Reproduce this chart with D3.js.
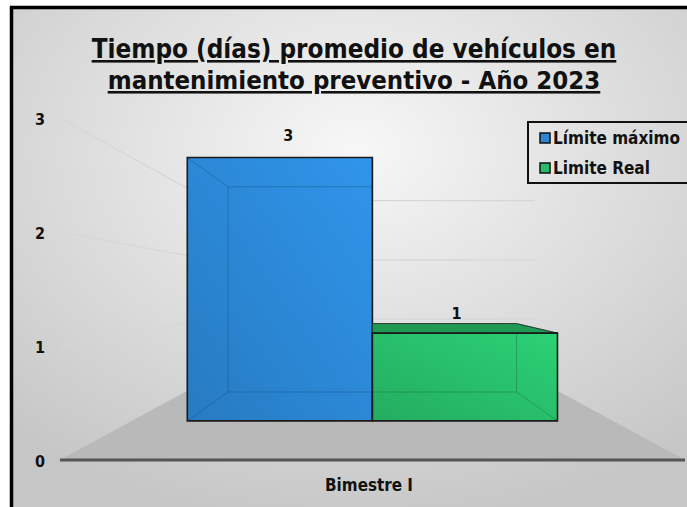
<!DOCTYPE html>
<html>
<head>
<meta charset="utf-8">
<script src="https://cdn.jsdelivr.net/npm/d3@7"></script>
<style>
  body { margin: 0; background: #fff; overflow: hidden; }
  text { font-family: "DejaVu Sans Condensed", "DejaVu Sans", sans-serif; font-stretch: condensed; font-weight: bold; fill: #111; }
</style>
</head>
<body>
<div id="container"></div>
<script>
/* DATA */
const categories = ["Bimestre I"];
const series = ["Límite máximo", "Limite Real"];
const values = [3, 1];
const yTicks = [0, 1, 2, 3];
const gridTicks = [1, 2, 3];
const titleLines = ["Tiempo (días) promedio de vehículos en", "mantenimiento preventivo - Año 2023"];

/* CONSTANTS AND GLOBALS */
const width = 687,
  height = 507,
  margin = { top: 118, bottom: 47, left: 60, right: 2 };

// fake 3d: everything is drawn on the front plane, then pulled toward the vanishing point
const vp = { x: 372, y: 290 };
const depth = { wall: 0.52, barFront: 0.77, barBack: 0.60 };

const fills = ["#2b86d3", "#27bc69"];
const tops = ["#2470b4", "#1f9a55"];

const project = (x, y, s) => [vp.x + (x - vp.x) * s, vp.y + (y - vp.y) * s];

/* SCALES */
const yScale = d3.scaleLinear()
  .domain([0, 3])
  .range([height - margin.bottom, margin.top]);

const xScale = d3.scaleBand()
  .domain(categories)
  .range([margin.left, width - margin.right]);

const xSeries = d3.scaleBand()
  .domain(series)
  .range([0, xScale.bandwidth()])
  .paddingOuter(0.3);

/* SVG */
const svg = d3.select("#container")
  .append("svg")
  .attr("width", width)
  .attr("height", height)
  .style("display", "block");

const defs = svg.append("defs");
const bg = defs.append("radialGradient").attr("id", "bg")
  .attr("cx", "50%").attr("cy", "28%").attr("r", "75%");
bg.append("stop").attr("offset", "0%").attr("stop-color", "#f7f7f7");
bg.append("stop").attr("offset", "100%").attr("stop-color", "#c6c6c6");

fills.forEach((c, i) => {
  const g = defs.append("linearGradient").attr("id", "bar" + i)
    .attr("x1", "100%").attr("y1", "0%").attr("x2", "0%").attr("y2", "100%");
  g.append("stop").attr("offset", "0%").attr("stop-color", d3.color(c).brighter(0.3));
  g.append("stop").attr("offset", "100%").attr("stop-color", d3.color(c).darker(0.25));
});

svg.append("rect")
  .attr("x", 12).attr("y", 8)
  .attr("width", width).attr("height", height)
  .attr("fill", "url(#bg)");

// gridlines: left wall + back wall
const xLeft = xScale.range()[0], xRight = xScale.range()[1];
const grid = svg.append("g").attr("stroke", "#d6d6d6").attr("stroke-width", 1.2).attr("fill", "none");
gridTicks.forEach(t => {
  const front = [xLeft, yScale(t)];
  const backL = project(xLeft, yScale(t), depth.wall);
  const backR = project(xRight, yScale(t), depth.wall);
  grid.append("path").attr("d", d3.line()([front, backL, backR]));
});

// floor
const floorPts = [
  [xLeft, yScale(0)],
  [xRight, yScale(0)],
  project(xRight, yScale(0), depth.wall),
  project(xLeft, yScale(0), depth.wall)
];
svg.append("path")
  .attr("d", d3.line()(floorPts) + "Z")
  .attr("fill", "#b9b9b9");

svg.append("line")
  .attr("x1", xLeft).attr("x2", xRight)
  .attr("y1", yScale(0)).attr("y2", yScale(0))
  .attr("stroke", "#555").attr("stroke-width", 3);

/* TEXT HELPERS */
const fit = (sel, target) => {
  const size = +sel.attr("font-size");
  const len = sel.node().getComputedTextLength();
  const fitted = size * target / len;
  sel.attr("font-size", fitted);
  return fitted;
};

// y tick labels
svg.append("g")
  .selectAll("text")
  .data(yTicks)
  .join("text")
  .attr("x", 40)
  .attr("y", d => yScale(d) + 7)
  .attr("text-anchor", "middle")
  .attr("font-size", 16)
  .text(d => d);

// x category label
const catLabel = svg.append("text")
  .attr("x", 369)
  .attr("y", 491)
  .attr("text-anchor", "middle")
  .attr("font-size", 16)
  .text(categories[0]);
fit(catLabel, 88);

/* BARS */
const bars = series.map((s, i) => {
  const x0 = xScale(categories[0]) + xSeries(s);
  const x1 = x0 + xSeries.bandwidth();
  const yb = yScale(0), yt = yScale(values[i]);
  const f = {
    tl: project(x0, yt, depth.barFront), tr: project(x1, yt, depth.barFront),
    bl: project(x0, yb, depth.barFront), br: project(x1, yb, depth.barFront)
  };
  const b = {
    tl: project(x0, yt, depth.barBack), tr: project(x1, yt, depth.barBack),
    bl: project(x0, yb, depth.barBack), br: project(x1, yb, depth.barBack)
  };
  return { s, i, x0, x1, yt, f, b };
});

const poly = pts => d3.line()(pts) + "Z";
const barG = svg.append("g");

bars.forEach(d => {
  const g = barG.append("g");
  // front face
  g.append("path")
    .attr("d", poly([d.f.tl, d.f.tr, d.f.br, d.f.bl]))
    .attr("fill", `url(#bar${d.i})`);
  // hidden edges seen through the face
  const inner = g.append("g")
    .attr("stroke", d3.color(fills[d.i]).darker(1.4))
    .attr("stroke-opacity", 0.45).attr("stroke-width", 1).attr("fill", "none");
  inner.append("path").attr("d", poly([d.b.tl, d.b.tr, d.b.br, d.b.bl]));
  ["tl", "tr", "bl", "br"].forEach(k => {
    inner.append("path").attr("d", d3.line()([d.f[k], d.b[k]]));
  });
  // top face is only visible when it sits below eye level
  if (d.b.tl[1] < d.f.tl[1]) {
    g.append("path")
      .attr("d", poly([d.f.tl, d.f.tr, d.b.tr, d.b.tl]))
      .attr("fill", tops[d.i])
      .attr("stroke", "#222").attr("stroke-width", 0.8);
  }
  // front outline
  g.append("path")
    .attr("d", poly([d.f.tl, d.f.tr, d.f.br, d.f.bl]))
    .attr("fill", "none")
    .attr("stroke", "#1a1a1a").attr("stroke-width", 1.6);
});

// data labels
svg.append("g")
  .selectAll("text")
  .data(bars)
  .join("text")
  .attr("x", d => project((d.x0 + d.x1) / 2, 0, 0.70)[0])
  .attr("y", d => project(0, d.yt, 0.78)[1] - 15)
  .attr("text-anchor", "middle")
  .attr("font-size", 16)
  .text(d => values[d.i]);

/* LEGEND */
const legend = svg.append("g");
legend.append("rect")
  .attr("x", 528).attr("y", 122)
  .attr("width", 170).attr("height", 61)
  .attr("fill", "none").attr("stroke", "#111").attr("stroke-width", 2);

const item = legend.selectAll("g.item")
  .data(series)
  .join("g")
  .attr("class", "item")
  .attr("transform", (d, i) => `translate(540,${133 + i * 30})`);

item.append("rect")
  .attr("width", 10).attr("height", 10)
  .attr("fill", (d, i) => fills[i])
  .attr("stroke", "#111").attr("stroke-width", 1.5);

item.append("text")
  .attr("x", 13).attr("y", 10.5)
  .attr("font-size", 15)
  .text(d => d);

const legendSize = fit(item.select("text").filter((d, i) => i === 0), 127);
item.select("text").attr("font-size", legendSize);

/* TITLE */
const titleWidths = [525, 493];
titleLines.forEach((t, i) => {
  const tx = svg.append("text")
    .attr("x", 354)
    .attr("y", 58 + i * 31)
    .attr("text-anchor", "middle")
    .attr("font-size", 22)
    .style("text-decoration", "underline")
    .text(t);
  fit(tx, titleWidths[i]);
});

// chart border (only left and top are inside the picture)
svg.append("rect")
  .attr("x", 11.5).attr("y", 7.5)
  .attr("width", width + 20).attr("height", height + 20)
  .attr("fill", "none")
  .attr("stroke", "#000").attr("stroke-width", 3.5);
</script>
</body>
</html>
